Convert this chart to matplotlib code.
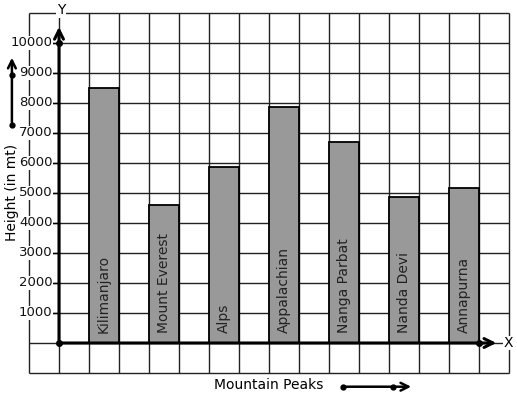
import matplotlib.pyplot as plt

peaks = ['Kilimanjaro', 'Mount Everest', 'Alps', 'Appalachian',
         'Nanga Parbat', 'Nanda Devi', 'Annapurna']
heights = [8500, 4600, 5870, 7880, 6710, 4880, 5160]
bar_pos = [1.5, 3.5, 5.5, 7.5, 9.5, 11.5, 13.5]
yticks = [1000, 2000, 3000, 4000, 5000, 6000, 7000, 8000, 9000, 10000]

fig = plt.figure(figsize=(5.17, 3.99), dpi=100)
ax = fig.add_axes([29 / 517, 26 / 399, 480 / 517, 360 / 399])
ax.set_xlim(-1, 15)
ax.set_ylim(-1000, 11000)
ax.axis('off')

# squared paper
grid_kw = dict(color='#222222', lw=1.0, clip_on=False, zorder=1)
ax.vlines(range(-1, 16), -1000, 11000, **grid_kw)
ax.hlines(range(-1000, 11001, 1000), -1, 15, **grid_kw)

ax.bar(bar_pos, heights, width=1.0, color='#999999', edgecolor='black',
       linewidth=1.3, zorder=2)
for x, name in zip(bar_pos, peaks):
    ax.text(x, 333, name, rotation=90, ha='center', va='bottom',
            fontsize=10, color='#222222', zorder=3)

# axes with arrows
arrow_kw = dict(arrowstyle='->', lw=2.2, color='black', mutation_scale=16)
ax.annotate('', xy=(0, 10630), xytext=(0, 0), arrowprops=arrow_kw,
            annotation_clip=False, zorder=4)
ax.annotate('', xy=(14.67, 0), xytext=(0, 0), arrowprops=arrow_kw,
            annotation_clip=False, zorder=4)
ax.plot([0, 0, 14.0], [0, 10000, 0], 'o', color='black', ms=4, zorder=5)

for v in yticks:
    ax.plot([-0.2, 0], [v, v], color='black', lw=1.0, zorder=3)
    ax.text(-0.22, v, str(v), ha='right', va='center', fontsize=9.5,
            color='#111111', zorder=4,
            bbox=dict(facecolor='white', edgecolor='none', pad=0.5))

ax.text(0.07, 11100, 'Y', ha='center', va='center', fontsize=10, zorder=4,
        bbox=dict(facecolor='white', edgecolor='none', pad=0.5))
ax.text(14.97, 0, 'X', ha='center', va='center', fontsize=10, zorder=4,
        bbox=dict(facecolor='white', edgecolor='none', pad=0.3))

# axis titles with direction arrows
ax.text(-1.57, 5033, 'Height (in mt)', rotation=90, ha='center',
        va='center', fontsize=10)
ax.annotate('', xy=(-1.57, 9600), xytext=(-1.57, 7267),
            arrowprops=dict(arrowstyle='->', lw=1.8, color='black',
                            mutation_scale=14), annotation_clip=False)
ax.plot([-1.57, -1.57], [7267, 8933], 'o', color='black', ms=3.5,
        clip_on=False)

ax.text(6.98, -1400, 'Mountain Peaks', ha='center', va='center', fontsize=10)
ax.annotate('', xy=(11.83, -1457), xytext=(9.48, -1457),
            arrowprops=dict(arrowstyle='->', lw=1.8, color='black',
                            mutation_scale=14), annotation_clip=False)
ax.plot([9.48, 11.14], [-1457, -1457], 'o', color='black', ms=3.5,
        clip_on=False)

fig.savefig('out.png', dpi=100, facecolor='white')
